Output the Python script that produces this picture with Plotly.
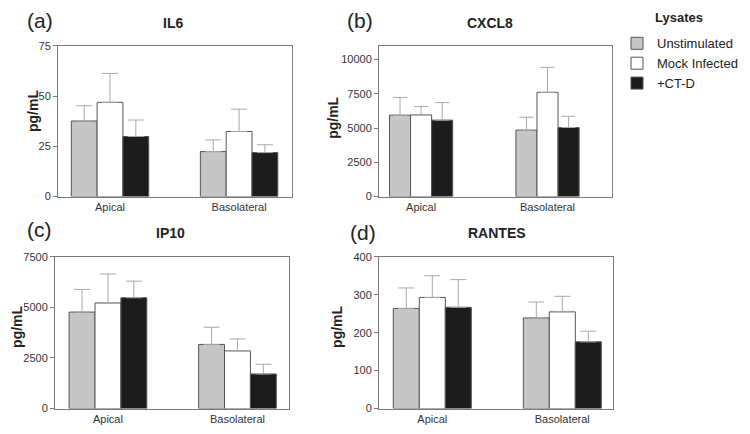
import plotly.graph_objects as go

W, H = 750, 434

categories = ["Apical", "Basolateral"]
series_names = ["Unstimulated", "Mock Infected", "+CT-D"]

# IL6 (pg/mL)
il6_unstim = [37.6, 22.4]
il6_mock = [46.9, 32.4]
il6_ctd = [29.9, 21.9]
il6_unstim_err = [7.6, 5.8]
il6_mock_err = [14.4, 11.1]
il6_ctd_err = [8.2, 3.9]

# CXCL8 (pg/mL)
cxcl8_unstim = [5940, 4850]
cxcl8_mock = [5960, 7610]
cxcl8_ctd = [5580, 5040]
cxcl8_unstim_err = [1290, 940]
cxcl8_mock_err = [610, 1820]
cxcl8_ctd_err = [1280, 820]

# IP10 (pg/mL)
ip10_unstim = [4770, 3170]
ip10_mock = [5220, 2850]
ip10_ctd = [5480, 1710]
ip10_unstim_err = [1120, 850]
ip10_mock_err = [1430, 590]
ip10_ctd_err = [820, 480]

# RANTES (pg/mL)
rantes_unstim = [264, 239]
rantes_mock = [293, 255]
rantes_ctd = [267, 176]
rantes_unstim_err = [54, 42]
rantes_mock_err = [57, 41]
rantes_ctd_err = [73, 28]

il6_ticks = [0, 25, 50, 75]
cxcl8_ticks = [0, 2500, 5000, 7500, 10000]
ip10_ticks = [0, 2500, 5000, 7500]
rantes_ticks = [0, 100, 200, 300, 400]

bar_colors = ["#c6c6c6", "#ffffff", "#1c1c1c"]
FONT = "Liberation Sans, Arial, sans-serif"


def px_x(px):
    return px / W


def px_y(py):
    return 1 - py / H


panels = [
    dict(name="IL6", label="(a)", means=[il6_unstim, il6_mock, il6_ctd],
         errs=[il6_unstim_err, il6_mock_err, il6_ctd_err], ticks=il6_ticks,
         yrange=[0, 75], xdom=[58, 292], ydom=[41, 196], xrange=[-0.403, 1.41],
         bw=0.2, cap=8,
         lab=(25, 15), title=(173, 17), ytitle=(33, 108)),
    dict(name="CXCL8", label="(b)", means=[cxcl8_unstim, cxcl8_mock, cxcl8_ctd],
         errs=[cxcl8_unstim_err, cxcl8_mock_err, cxcl8_ctd_err], ticks=cxcl8_ticks,
         yrange=[0, 11000], xdom=[379, 612], ydom=[41, 196], xrange=[-0.333, 1.51],
         bw=0.5 / 3, cap=7,
         lab=(345, 15), title=(490, 17), ytitle=(333, 115)),
    dict(name="IP10", label="(c)", means=[ip10_unstim, ip10_mock, ip10_ctd],
         errs=[ip10_unstim_err, ip10_mock_err, ip10_ctd_err], ticks=ip10_ticks,
         yrange=[0, 7500], xdom=[55, 289], ydom=[258, 414], xrange=[-0.409, 1.398],
         bw=0.2, cap=8,
         lab=(25, 230), title=(170, 233), ytitle=(17, 330)),
    dict(name="RANTES", label="(d)", means=[rantes_unstim, rantes_mock, rantes_ctd],
         errs=[rantes_unstim_err, rantes_mock_err, rantes_ctd_err], ticks=rantes_ticks,
         yrange=[0, 400], xdom=[379, 613], ydom=[258, 414], xrange=[-0.41, 1.39],
         bw=0.2, cap=8,
         lab=(348, 233), title=(497, 233), ytitle=(337, 330)),
]

fig = go.Figure()
annotations = []
layout_axes = {}

for i, p in enumerate(panels):
    n = i + 1
    xa = "x" if n == 1 else f"x{n}"
    ya = "y" if n == 1 else f"y{n}"
    bw = p["bw"]
    offsets = [-1.5 * bw, -0.5 * bw, 0.5 * bw]
    for s in range(3):
        fig.add_trace(go.Bar(
            x=[0, 1], y=p["means"][s], name=series_names[s],
            xaxis=xa, yaxis=ya, width=bw, offset=offsets[s],
            marker=dict(color=bar_colors[s], line=dict(color="#555555", width=1)),
            error_y=dict(type="data", array=p["errs"][s], arrayminus=[0, 0],
                         symmetric=False, color="#a8a8a8", thickness=1, width=p["cap"]),
            showlegend=(i == 0), legendgroup=series_names[s],
        ))
    axis_common = dict(showline=True, linecolor="#7a7a7a", linewidth=1, mirror=True,
                       showgrid=False, zeroline=False,
                       tickfont=dict(family=FONT, size=11, color="#333333"))
    layout_axes["xaxis" if n == 1 else f"xaxis{n}"] = dict(
        axis_common, domain=[px_x(p["xdom"][0]), px_x(p["xdom"][1])],
        anchor=ya, range=p["xrange"], tickvals=[0, 1], ticktext=categories,
        ticks="", ticklen=0)
    layout_axes["yaxis" if n == 1 else f"yaxis{n}"] = dict(
        axis_common, domain=[px_y(p["ydom"][1]), px_y(p["ydom"][0])],
        anchor=xa, range=p["yrange"], tickvals=p["ticks"], tickformat="d",
        ticks="outside", ticklen=4, tickcolor="#7a7a7a")
    annotations.append(dict(text=p["label"], x=px_x(p["lab"][0]), y=px_y(p["lab"][1]),
                            xref="paper", yref="paper", xanchor="left", yanchor="middle",
                            showarrow=False, font=dict(family=FONT, size=21, color="#222222")))
    annotations.append(dict(text="<b>" + p["name"] + "</b>", x=px_x(p["title"][0]),
                            y=px_y(p["title"][1]), xref="paper", yref="paper",
                            xanchor="center", yanchor="middle", showarrow=False,
                            font=dict(family=FONT, size=14, color="#222222")))
    annotations.append(dict(text="<b>pg/mL</b>", x=px_x(p["ytitle"][0]),
                            y=px_y(p["ytitle"][1]), xref="paper", yref="paper",
                            xanchor="center", yanchor="middle", textangle=-90,
                            showarrow=False, font=dict(family=FONT, size=14, color="#222222")))

annotations.append(dict(text="<b>Lysates</b>", x=px_x(653), y=px_y(12), xref="paper",
                        yref="paper", xanchor="left", yanchor="middle", showarrow=False,
                        font=dict(family=FONT, size=13, color="#222222")))

fig.update_layout(
    width=W, height=H, margin=dict(l=0, r=0, t=0, b=0),
    paper_bgcolor="white", plot_bgcolor="white",
    barmode="overlay", annotations=annotations,
    legend=dict(x=px_x(617), y=px_y(23), xanchor="left", yanchor="top",
                font=dict(family=FONT, size=13, color="#222222"),
                bgcolor="rgba(0,0,0,0)", traceorder="normal", tracegroupgap=0,
                itemwidth=30),
    **layout_axes,
)

fig.write_html(
    "out.html",
    config={"displayModeBar": False},
    post_script="document.body.style.margin='0';document.body.style.padding='0';"
                "document.body.style.overflow='hidden';",
)
